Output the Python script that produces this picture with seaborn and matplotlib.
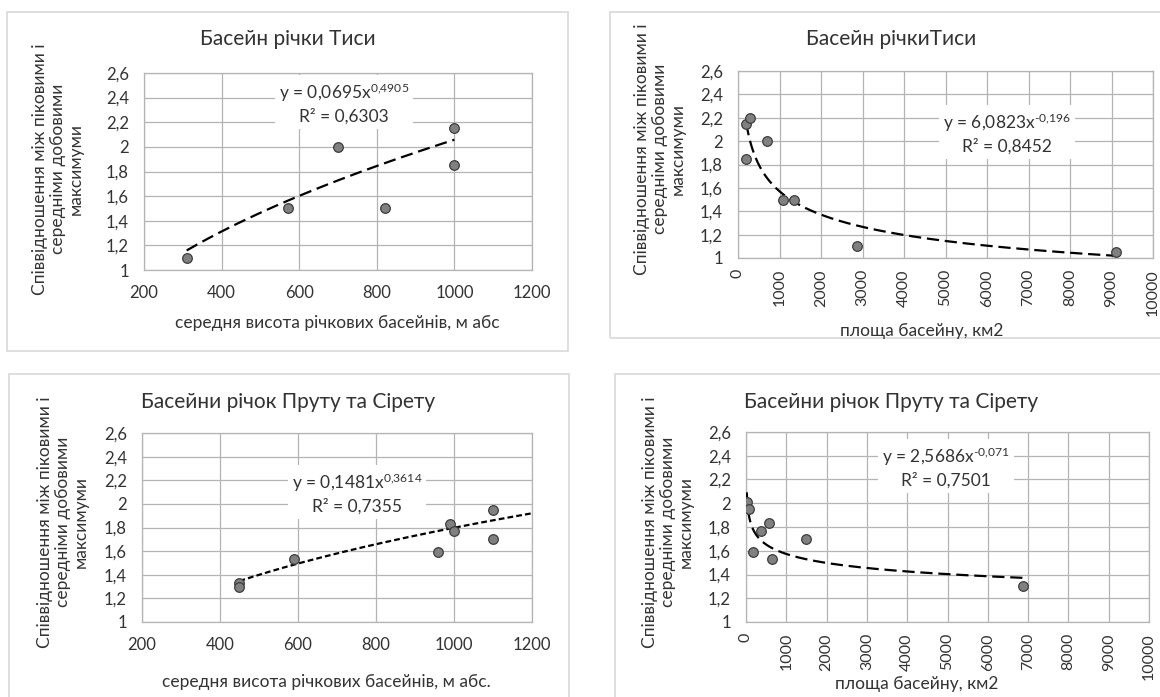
import numpy as np
import pandas as pd
import matplotlib
matplotlib.use("Agg")
import matplotlib.pyplot as plt
from matplotlib.patches import Rectangle
from matplotlib.ticker import FixedLocator, FuncFormatter
import seaborn as sns

# ---- observations: ratio of peak to mean daily maxima ----
tisa_height = [310, 570, 700, 820, 1000, 1000]
tisa_height_ratio = [1.10, 1.50, 2.00, 1.50, 2.15, 1.85]

tisa_area = [200, 300, 200, 700, 1080, 1350, 2870, 9100]
tisa_area_ratio = [2.15, 2.20, 1.85, 2.00, 1.50, 1.50, 1.10, 1.05]

prut_height = [450, 450, 590, 960, 990, 1000, 1100, 1100]
prut_height_ratio = [1.33, 1.30, 1.53, 1.59, 1.83, 1.77, 1.95, 1.70]

prut_area = [20, 75, 170, 370, 570, 650, 1480, 6880]
prut_area_ratio = [2.01, 1.95, 1.59, 1.77, 1.83, 1.53, 1.70, 1.30]

# power trend y = a * x^b : (a, b, a text, b text, R^2 text)
tisa_height_fit = (0.0695, 0.4905, "0,0695", "0,4905", "0,6303")
tisa_area_fit = (6.0823, -0.196, "6,0823", "-0,196", "0,8452")
prut_height_fit = (0.1481, 0.3614, "0,1481", "0,3614", "0,7355")
prut_area_fit = (2.5686, -0.071, "2,5686", "-0,071", "0,7501")

# trend line extents along x
tisa_height_span = (310, 1000)
tisa_area_span = (200, 9100)
prut_height_span = (450, 1200)
prut_area_span = (18, 6880)

titles = ["Басейн річки Тиси", "Басейн річкиТиси",
          "Басейни річок Пруту та Сірету", "Басейни річок Пруту та Сірету"]
xlabels = ["середня висота річкових басейнів, м абс", "площа басейну, км2",
           "середня висота річкових басейнів, м абс.", "площа басейну, км2"]
ylabel = "Співвідношення між піковими і\nсередніми добовими\nмаксимуми"

height_ticks = [200, 400, 600, 800, 1000, 1200]
area_ticks = [0, 1000, 2000, 3000, 4000, 5000, 6000, 7000, 8000, 9000, 10000]
ratio_ticks = [1.0, 1.2, 1.4, 1.6, 1.8, 2.0, 2.2, 2.4, 2.6]

# ---- style ----
sns.set_theme(style="white")
FONT = ["Lato", "Open Sans", "DejaVu Sans"]
plt.rcParams["font.family"] = FONT
plt.rcParams["mathtext.fontset"] = "custom"
plt.rcParams["mathtext.rm"] = "Lato"
plt.rcParams["mathtext.it"] = "Lato"
plt.rcParams["mathtext.default"] = "regular"

TEXT = "#333333"
GRID = "#b4b4b4"
FRAME = "#d9d9d9"

W, H = 1160, 697
fig = plt.figure(figsize=(W / 100, H / 100), dpi=100)
fig.patch.set_facecolor("white")


def fx(x):
    return x / W


def fy(y):
    return 1 - y / H


def comma(v, _pos=None):
    return f"{v:g}".replace(".", ",")


panels = [
    dict(frame=(7, 12, 568, 351), axes=(144, 73, 532, 270),
         x=tisa_height, y=tisa_height_ratio, fit=tisa_height_fit, span=tisa_height_span,
         xticks=height_ticks, rot=0, dash=(5.5, 2.6),
         title_xy=(288, 39), xlabel_xy=(337, 323), ylabel_xy=(58, 169),
         eq_xy=(344, 103)),
    dict(frame=(610, 12, 1180, 338), axes=(738, 71, 1153, 258),
         x=tisa_area, y=tisa_area_ratio, fit=tisa_area_fit, span=tisa_area_span,
         xticks=area_ticks, rot=90, dash=(5.5, 2.6),
         title_xy=(891, 39), xlabel_xy=(922, 331), ylabel_xy=(660, 149),
         eq_xy=(1007, 133)),
    dict(frame=(9, 374, 569, 710), axes=(142, 433, 532, 622),
         x=prut_height, y=prut_height_ratio, fit=prut_height_fit, span=prut_height_span,
         xticks=height_ticks, rot=0, dash=(2.6, 1.4),
         title_xy=(288, 402), xlabel_xy=(326, 682), ylabel_xy=(63, 522),
         eq_xy=(357, 493)),
    dict(frame=(615, 374, 1180, 710), axes=(746, 432, 1149, 622),
         x=prut_area, y=prut_area_ratio, fit=prut_area_fit, span=prut_area_span,
         xticks=area_ticks, rot=90, dash=(5.5, 2.6),
         title_xy=(891, 402), xlabel_xy=(917, 684), ylabel_xy=(668, 522),
         eq_xy=(946, 467)),
]

for i, p in enumerate(panels):
    x0, y0, x1, y1 = p["frame"]
    fig.patches.append(Rectangle((fx(x0), fy(y1)), fx(x1) - fx(x0), fy(y0) - fy(y1),
                                 transform=fig.transFigure, fill=False,
                                 edgecolor=FRAME, linewidth=1.2, zorder=0))

    a0, b0, a1, b1 = p["axes"]
    ax = fig.add_axes([fx(a0), fy(b1), fx(a1) - fx(a0), fy(b0) - fy(b1)])
    ax.set_facecolor("white")

    xt = p["xticks"]
    ax.set_xlim(xt[0], xt[-1])
    ax.set_ylim(ratio_ticks[0], ratio_ticks[-1])
    ax.xaxis.set_major_locator(FixedLocator(xt))
    ax.yaxis.set_major_locator(FixedLocator(ratio_ticks))
    ax.xaxis.set_major_formatter(FuncFormatter(comma))
    ax.yaxis.set_major_formatter(FuncFormatter(comma))
    ax.grid(True, color=GRID, linewidth=0.9)
    ax.set_axisbelow(True)
    for s in ax.spines.values():
        s.set_color(GRID)
        s.set_linewidth(0.9)
    ax.tick_params(axis="both", length=0, labelsize=12, colors=TEXT)
    ax.tick_params(axis="y", pad=11)
    if p["rot"]:
        ax.tick_params(axis="x", pad=8, labelsize=11.5, labelrotation=90)
    else:
        ax.tick_params(axis="x", pad=11)

    # power trend line from the stated coefficients
    a, b, a_txt, b_txt, r2_txt = p["fit"]
    xs = np.linspace(p["span"][0], p["span"][1], 300)
    trend = pd.DataFrame({"x": xs, "y": a * xs ** b})
    sns.lineplot(data=trend, x="x", y="y", ax=ax, color="black", linewidth=1.6,
                 linestyle=(0, p["dash"]), estimator=None, sort=False, zorder=3)

    pts = pd.DataFrame({"x": p["x"], "y": p["y"]})
    sns.scatterplot(data=pts, x="x", y="y", ax=ax, s=48, color="#808080",
                    edgecolor="#3c3c3c", linewidth=0.9, zorder=4)
    ax.set_xlabel("")
    ax.set_ylabel("")

    fig.text(fx(p["title_xy"][0]), fy(p["title_xy"][1]), titles[i],
             ha="center", va="center", fontsize=15, color=TEXT)
    fig.text(fx(p["xlabel_xy"][0]), fy(p["xlabel_xy"][1]), xlabels[i],
             ha="center", va="center", fontsize=12.5, color=TEXT)
    fig.text(fx(p["ylabel_xy"][0]), fy(p["ylabel_xy"][1]), ylabel,
             ha="center", va="center", rotation=90, fontsize=12.5, color=TEXT,
             multialignment="center", linespacing=1.15)
    eq = f"y = {a_txt}x$^{{\\text{{{b_txt}}}}}$\nR² = {r2_txt}"
    fig.text(fx(p["eq_xy"][0]), fy(p["eq_xy"][1]), eq, ha="center", va="center",
             fontsize=12.5, color=TEXT, multialignment="center", linespacing=1.3,
             bbox=dict(facecolor="white", edgecolor="none", pad=3), zorder=5)

fig.savefig("out.png", dpi=100)
